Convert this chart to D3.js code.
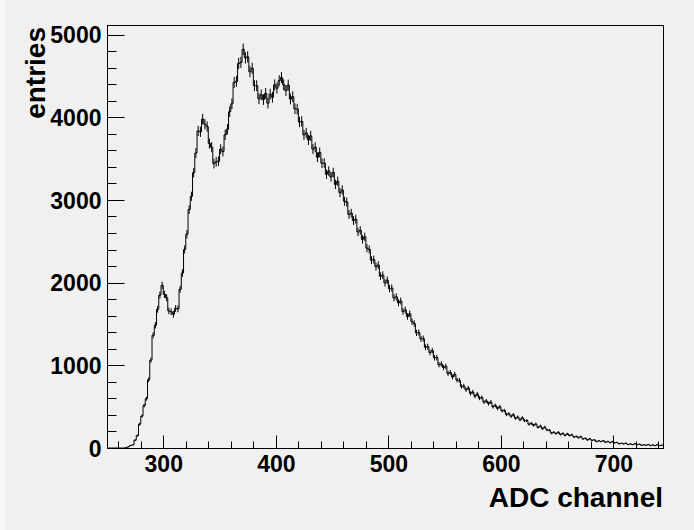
<!DOCTYPE html>
<html>
<head>
<meta charset="utf-8">
<script src="https://cdn.jsdelivr.net/npm/d3@7"></script>
<style>
  body { margin: 0; background: #f0f0f0; }
  svg { display: block; font-family: "Liberation Sans", Arial, sans-serif; font-weight: bold; }
</style>
</head>
<body>
<div id="hist"></div>
<script>
// ADC spectrum, 2 channels per bin, first bin starts at channel 250
const binStart = 250,
      binWidth = 2;

// entries per bin (rows of 10 bins = 20 channels)
const counts = [
    0, 0, 0, 0, 0, 0, 0, 0, 4, 14,                                  // 250
    30, 38, 95, 150, 288, 385, 514, 596, 825, 1062,                 // 270
    1363, 1485, 1678, 1849, 1967, 1858, 1817, 1658, 1648, 1617,     // 290
    1687, 1682, 1920, 2116, 2402, 2586, 2884, 3044, 3330, 3568,     // 310
    3835, 3824, 3978, 3915, 3887, 3683, 3638, 3440, 3461, 3468,     // 330
    3614, 3586, 3788, 3855, 4068, 4163, 4421, 4434, 4652, 4663,     // 350
    4822, 4718, 4731, 4551, 4593, 4382, 4382, 4224, 4272, 4214,     // 370
    4289, 4171, 4280, 4242, 4392, 4352, 4442, 4480, 4392, 4324,     // 390
    4389, 4221, 4250, 4103, 4099, 3943, 3950, 3788, 3811, 3726,     // 410
    3775, 3615, 3637, 3517, 3574, 3444, 3447, 3312, 3350, 3279,     // 430
    3332, 3188, 3226, 3089, 3121, 2985, 2975, 2825, 2840, 2751,     // 450
    2767, 2613, 2633, 2523, 2554, 2417, 2401, 2272, 2279, 2193,     // 470
    2212, 2078, 2091, 1997, 2029, 1928, 1935, 1816, 1828, 1756,     // 490
    1778, 1652, 1669, 1591, 1623, 1529, 1505, 1392, 1397, 1320,     // 510
    1323, 1218, 1226, 1155, 1177, 1091, 1094, 1008, 1016, 973,      // 530
    988, 902, 914, 859, 891, 822, 818, 743, 750, 705,               // 550
    724, 661, 677, 627, 652, 603, 610, 556, 569, 537,               // 570
    556, 499, 515, 479, 498, 449, 453, 405, 414, 384,               // 590
    402, 358, 374, 341, 365, 330, 332, 287, 298, 275,               // 610
    290, 250, 265, 233, 252, 218, 215, 180, 191, 174,               // 630
    190, 163, 176, 153, 171, 151, 160, 132, 140, 125,               // 650
    137, 110, 117, 97, 111, 93, 98, 78, 87, 78,                     // 670
    88, 69, 79, 65, 77, 62, 67, 51, 57, 50,                         // 690
    58, 42, 50, 41, 51, 41, 45, 33, 39, 33,                         // 710
    42, 29, 37, 28, 39, 29, 34                                      // 730
];

const xTicks = [300, 400, 500, 600, 700];
const yTicks = [0, 1000, 2000, 3000, 4000, 5000];

const xTitle = "ADC channel",
      yTitle = "entries";

const width = 694,
      height = 530,
      margin = ({ top: 25, right: 31, bottom: 82, left: 107 });

const bins = counts.map((v, i) => ({ lo: binStart + i * binWidth, v: v }));
const xMax = binStart + counts.length * binWidth;

let svg = d3.select("#hist")
    .append("svg")
    .attr("width", width)
    .attr("height", height);

svg.append("rect") // thin lighter strip on the left edge
    .attr("width", 6)
    .attr("height", height)
    .attr("fill", "#f7f7f7");

let x = d3.scaleLinear()
    .domain([binStart, xMax])
    .range([margin.left, width - margin.right]);

let y = d3.scaleLinear()
    .domain([0, d3.max(counts) * 1.061])
    .range([height - margin.bottom, margin.top]);

// frame
svg.append("rect")
    .attr("x", margin.left + 0.5)
    .attr("y", margin.top + 0.5)
    .attr("width", width - margin.right - margin.left)
    .attr("height", height - margin.bottom - margin.top)
    .attr("fill", "none")
    .attr("stroke", "black");

// x axis ticks (inside the frame, ROOT style)
let xAxis = svg.append("g")
    .attr("transform", `translate(0.5,${height - margin.bottom + 0.5})`);

xAxis.selectAll(".minor")
    .data(d3.range(260, xMax, 20).filter(d => d % 100 !== 0))
    .join("line")
    .attr("x1", d => Math.round(x(d)))
    .attr("x2", d => Math.round(x(d)))
    .attr("y1", 0)
    .attr("y2", -7)
    .attr("stroke", "black");

xAxis.selectAll(".major")
    .data(xTicks)
    .join("line")
    .attr("x1", d => Math.round(x(d)))
    .attr("x2", d => Math.round(x(d)))
    .attr("y1", 0)
    .attr("y2", -13)
    .attr("stroke", "black");

xAxis.selectAll("text")
    .data(xTicks)
    .join("text")
    .attr("x", d => x(d))
    .attr("y", 23)
    .attr("text-anchor", "middle")
    .style("font-size", "23px")
    .text(d => d);

// y axis ticks
let yAxis = svg.append("g")
    .attr("transform", `translate(${margin.left + 0.5},0.5)`);

yAxis.selectAll(".minor")
    .data(d3.range(200, y.domain()[1], 200).filter(d => d % 1000 !== 0))
    .join("line")
    .attr("x1", 0)
    .attr("x2", 9)
    .attr("y1", d => Math.round(y(d)))
    .attr("y2", d => Math.round(y(d)))
    .attr("stroke", "black");

yAxis.selectAll(".major")
    .data(yTicks)
    .join("line")
    .attr("x1", 0)
    .attr("x2", 17)
    .attr("y1", d => Math.round(y(d)))
    .attr("y2", d => Math.round(y(d)))
    .attr("stroke", "black");

yAxis.selectAll("text")
    .data(yTicks)
    .join("text")
    .attr("x", -6)
    .attr("y", d => y(d))
    .attr("dy", "0.36em")
    .attr("text-anchor", "end")
    .style("font-size", "23px")
    .text(d => d);

// histogram
svg.append("clipPath")
    .attr("id", "frame")
    .append("rect")
    .attr("x", margin.left)
    .attr("y", margin.top)
    .attr("width", width - margin.right - margin.left)
    .attr("height", height - margin.bottom - margin.top);

let plot = svg.append("g").attr("clip-path", "url(#frame)");

let steps = bins.map(d => [x(d.lo), y(d.v)]);
steps.push([x(xMax), y(counts[counts.length - 1])]);

plot.append("path")
    .attr("d", d3.line().curve(d3.curveStepAfter)(steps))
    .attr("fill", "none")
    .attr("stroke", "black")
    .attr("stroke-width", 1);

plot.selectAll(".err") // sqrt(N) error bars
    .data(bins.filter(d => d.v > 0))
    .join("line")
    .attr("x1", d => x(d.lo + binWidth / 2))
    .attr("x2", d => x(d.lo + binWidth / 2))
    .attr("y1", d => y(d.v - Math.sqrt(d.v)))
    .attr("y2", d => y(d.v + Math.sqrt(d.v)))
    .attr("stroke", "black")
    .attr("stroke-width", 1);

// axis titles
svg.append("text")
    .attr("x", width - margin.right)
    .attr("y", 507)
    .attr("text-anchor", "end")
    .style("font-size", "28px")
    .text(xTitle);

svg.append("text")
    .attr("transform", `translate(45,${margin.top + 2}) rotate(-90)`)
    .attr("text-anchor", "end")
    .style("font-size", "28px")
    .text(yTitle);
</script>
</body>
</html>
